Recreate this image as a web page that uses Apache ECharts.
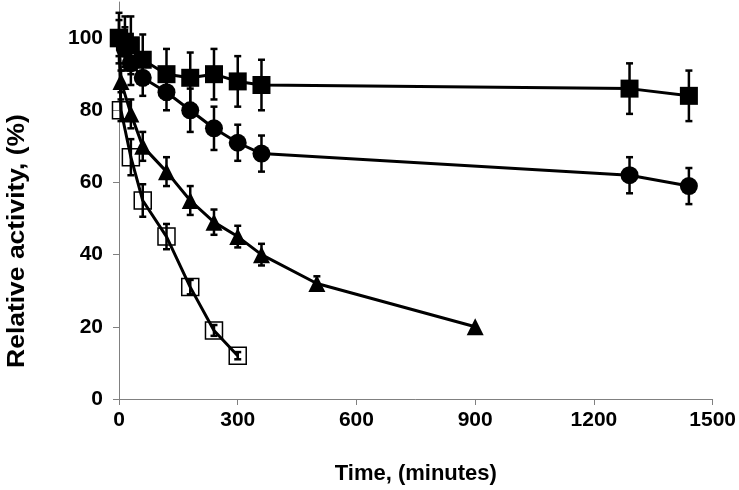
<!DOCTYPE html>
<html>
<head>
<meta charset="utf-8">
<script src="https://cdn.jsdelivr.net/npm/echarts@6/dist/echarts.min.js"></script>
<style>html,body{margin:0;padding:0;background:#fff}#c{width:739px;height:490px}</style>
</head>
<body>
<div id="c"></div>
<script>
// Filled squares
var timeSq = [0, 15, 30, 60, 120, 180, 240, 300, 360, 1290, 1440];
var valSq  = [100, 99, 98, 94, 90, 89, 90, 88, 87, 86, 84];
var errSq  = [7, 7, 8, 7, 7, 7, 7, 7, 7, 7, 7];
// Filled circles
var timeCi = [0, 15, 30, 60, 120, 180, 240, 300, 360, 1290, 1440];
var valCi  = [100, 97, 93, 89, 85, 80, 75, 71, 68, 62, 59];
var errCi  = [5, 6, 6, 5, 5, 6, 6, 5, 5, 5, 5];
// Filled triangles
var timeTr = [0, 5, 30, 60, 120, 180, 240, 300, 360, 500, 900];
var valTr  = [100, 88, 79, 70, 63, 55, 49, 45, 40, 32, 20];
var errTr  = [0, 3, 4, 4, 4, 4, 3.5, 3, 3, 2, 0];
// Open squares
var timeOp = [0, 5, 30, 60, 120, 180, 240, 300];
var valOp  = [100, 80, 67, 55, 45, 31, 19, 12];
var errOp  = [0, 3, 5, 4.5, 3.5, 2, 1.5, 1];

var xTicks = [0, 300, 600, 900, 1200, 1500];
var yTicks = [0, 20, 40, 60, 80, 100];

var FONT = "'Liberation Sans', Arial, sans-serif";

function pts(t, v) { return t.map(function (x, i) { return [x, v[i]]; }); }
function errs(t, v, e) { return t.map(function (x, i) { return [x, v[i] - e[i], v[i] + e[i]]; }); }

function errRender(params, api) {
  var x = api.value(0), lo = api.value(1), hi = api.value(2);
  if (hi - lo <= 0) return null;
  var a = api.coord([x, lo]), b = api.coord([x, hi]);
  var w = 3.5, st = { stroke: '#000', lineWidth: 2.5 };
  return {
    type: 'group',
    children: [
      { type: 'line', shape: { x1: a[0], y1: a[1], x2: b[0], y2: b[1] }, style: st },
      { type: 'line', shape: { x1: a[0] - w, y1: a[1], x2: a[0] + w, y2: a[1] }, style: st },
      { type: 'line', shape: { x1: b[0] - w, y1: b[1], x2: b[0] + w, y2: b[1] }, style: st }
    ]
  };
}

function lineSeries(data, symbol, size, open) {
  return {
    type: 'line', data: data, symbol: symbol, symbolSize: size,
    showAllSymbol: true, animation: false, z: 3,
    lineStyle: { color: '#000', width: 3 },
    itemStyle: open ? { color: 'rgba(0,0,0,0)', borderColor: '#000', borderWidth: 1.5 } : { color: '#000', borderWidth: 0 }
  };
}
function errSeries(data) {
  return { type: 'custom', data: data, renderItem: errRender, encode: { x: 0, y: [1, 2] }, z: 4, animation: false, silent: true };
}

var chart = echarts.init(document.getElementById('c'), null, { renderer: 'canvas' });
chart.setOption({
  backgroundColor: '#fff',
  animation: false,
  grid: { left: 119, right: 26, top: 2, bottom: 89, containLabel: false },
  xAxis: {
    type: 'value', min: 0, max: 1500, interval: 300,
    name: 'Time, (minutes)', nameLocation: 'middle', nameGap: 64,
    nameTextStyle: { fontFamily: FONT, fontWeight: 'bold', fontSize: 22, color: '#000' },
    axisLine: { show: true, lineStyle: { color: '#808080', width: 1 } },
    axisTick: { show: true, length: 6, lineStyle: { color: '#808080' }, customValues: xTicks },
    axisLabel: { fontFamily: FONT, fontWeight: 'bold', fontSize: 21, color: '#000', margin: 11, customValues: xTicks,
      formatter: function (v) { return String(v); } },
    splitLine: { show: false }
  },
  yAxis: {
    type: 'value', min: 0, max: 110, interval: 20,
    axisLine: { show: true, lineStyle: { color: '#808080', width: 1 } },
    axisTick: { show: true, length: 6, lineStyle: { color: '#808080' }, customValues: yTicks },
    axisLabel: { fontFamily: FONT, fontWeight: 'bold', fontSize: 21, color: '#000', margin: 16, customValues: yTicks,
      formatter: function (v) { return String(v); } },
    splitLine: { show: false }
  },
  graphic: [{
    type: 'text', x: 18, y: 241, rotation: Math.PI / 2, scaleX: 1.15, scaleY: 1,
    style: { text: 'Relative activity, (%)', fontFamily: FONT, fontWeight: 'bold', fontSize: 23, fill: '#000', align: 'center', verticalAlign: 'middle' }
  }],
  series: [
    lineSeries(pts(timeOp, valOp), 'rect', 17, true),
    lineSeries(pts(timeTr, valTr), 'triangle', 17, false),
    lineSeries(pts(timeCi, valCi), 'circle', 18, false),
    lineSeries(pts(timeSq, valSq), 'rect', 18, false),
    errSeries(errs(timeOp, valOp, errOp)),
    errSeries(errs(timeTr, valTr, errTr)),
    errSeries(errs(timeCi, valCi, errCi)),
    errSeries(errs(timeSq, valSq, errSq))
  ]
});
</script>
</body>
</html>
